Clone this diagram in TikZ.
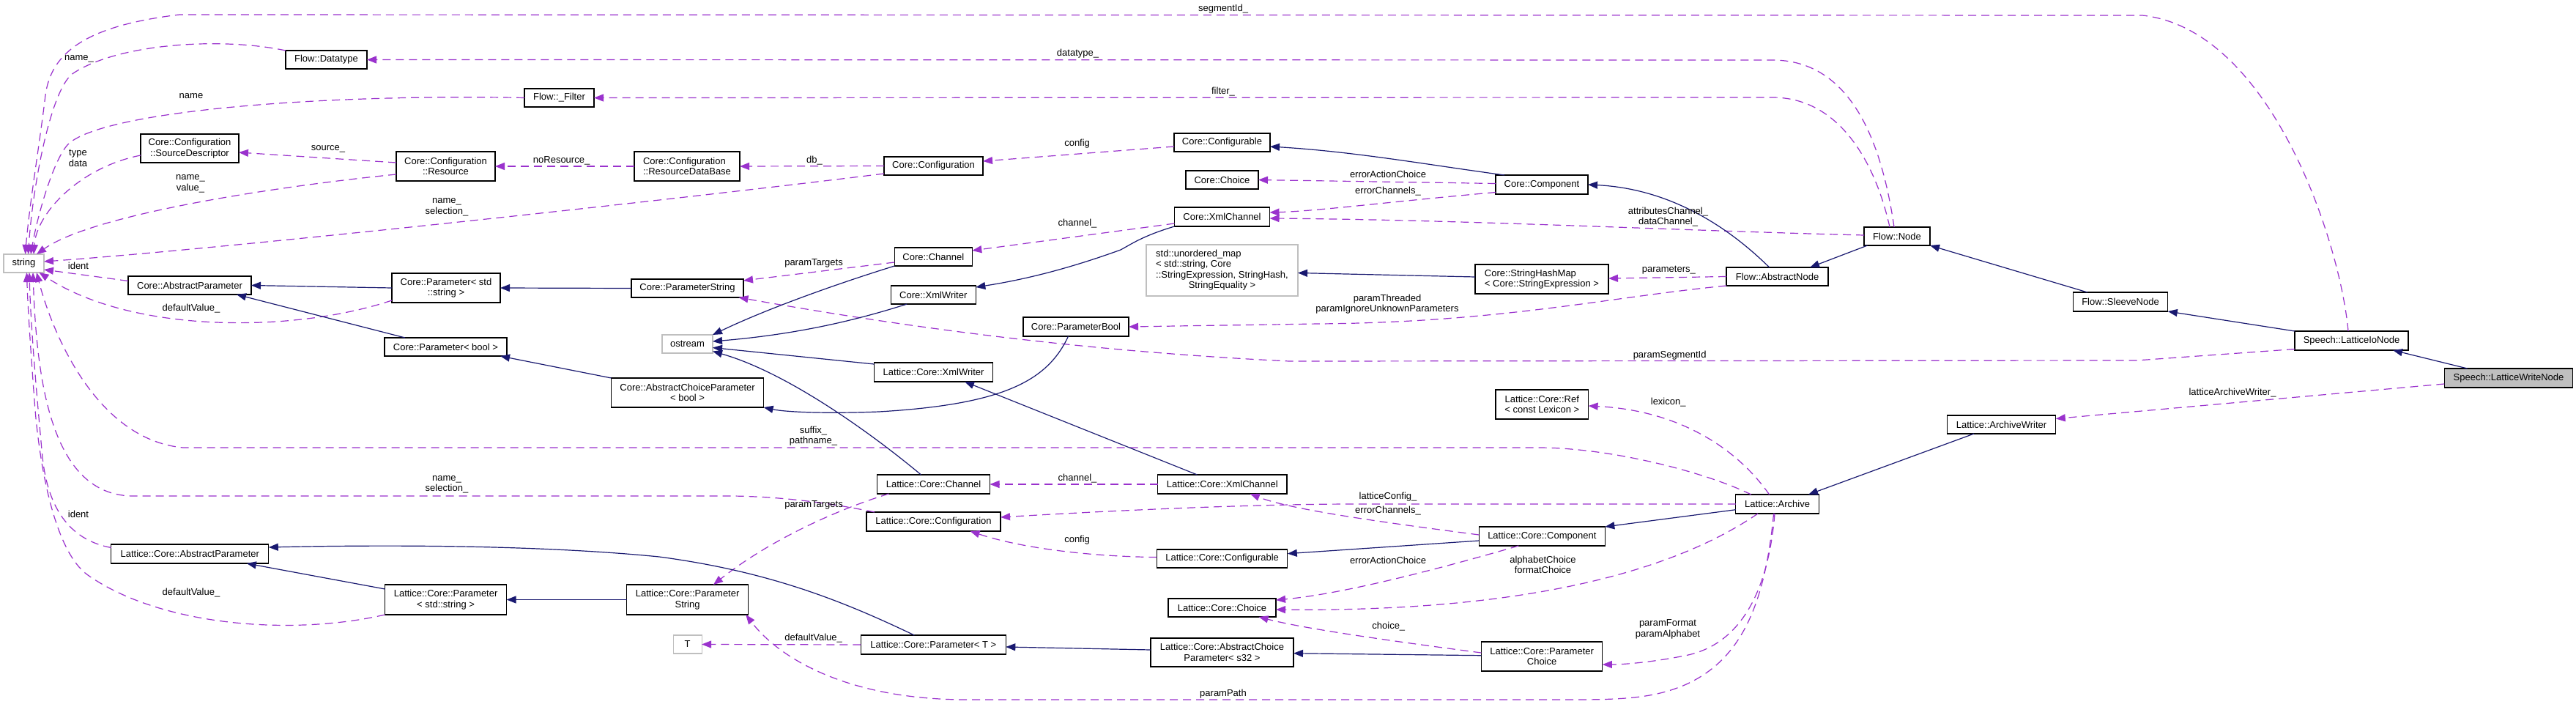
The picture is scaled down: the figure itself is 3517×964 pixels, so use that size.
\documentclass[tikz,border=0pt]{standalone}
\usepackage{fontspec}
\setmainfont{Liberation Sans}
\usetikzlibrary{arrows.meta}
\definecolor{usecol}{HTML}{9A32CD}
\definecolor{inhcol}{HTML}{191970}
\definecolor{extgray}{HTML}{BFBFBF}
\newcommand\fsz{\fontsize{13pt}{14.5pt}\selectfont}
\begin{document}
\begin{tikzpicture}[x=1pt,y=-1pt,
  cls/.style={draw=black,line width=1.1pt,fill=white,inner sep=0pt,outer sep=0pt,font=\fsz,align=center},
  ext/.style={cls,draw=extgray},
  lbl/.style={inner sep=0pt,font=\fsz,align=center},
  usg/.style={draw=usecol,line width=1.2pt,dash pattern=on 11pt off 7pt,-{Triangle[length=13pt,width=10pt]}},
  inh/.style={draw=inhcol,line width=1.2pt,-{Triangle[length=13pt,width=10pt]}}]
\fill[white] (0,0) rectangle (3517,964);
\useasboundingbox (0,0) rectangle (3517,964);

% ---------- nodes ----------
\node[cls,minimum width=111pt,minimum height=25pt] (dtype) at (445.5,81.5) {Flow::Datatype};
\node[cls,minimum width=134pt,minimum height=39pt] (srcdesc) at (259,202.5) {Core::Configuration\\::SourceDescriptor};
\node[cls,minimum width=135pt,minimum height=40pt] (resource) at (608.5,227) {Core::Configuration\\::Resource};
\node[ext,minimum width=55pt,minimum height=25pt] (string) at (32.5,359.5) {string};
\node[cls,minimum width=168pt,minimum height=25pt] (coreabsparam) at (259,389.5) {Core::AbstractParameter};
\node[cls,minimum width=148pt,minimum height=40pt] (coreparamstr) at (609,393) {Core::Parameter< std\\::string >};
\node[cls,minimum width=167pt,minimum height=25pt] (coreparambool) at (608.5,473.5) {Core::Parameter< bool >};
\node[cls,minimum width=95pt,minimum height=25pt] (filter) at (763.5,133.5) {Flow::\_Filter};
\node[cls,align=left,minimum width=144pt,minimum height=40pt] (resdb) at (938,227) {Core::Configuration\\::ResourceDataBase};
\node[cls,minimum width=153pt,minimum height=25pt] (coreparamstring) at (938.5,393.5) {Core::ParameterString};
\node[ext,minimum width=69pt,minimum height=25pt] (ostream) at (938.5,469.5) {ostream};
\node[cls,minimum width=131pt,minimum height=25pt] (configurable) at (1668.5,194.5) {Core::Configurable};
\node[cls,minimum width=135pt,minimum height=25pt] (configuration) at (1274.5,226.5) {Core::Configuration};
\node[cls,minimum width=99pt,minimum height=25pt] (choice) at (1668.5,245.5) {Core::Choice};
\node[cls,minimum width=130pt,minimum height=26pt] (xmlchannel) at (1668.5,296) {Core::XmlChannel};
\node[cls,minimum width=106pt,minimum height=25pt] (channel) at (1274.3,350.5) {Core::Channel};
\node[cls,minimum width=116pt,minimum height=25pt] (xmlwriter) at (1274.3,402.5) {Core::XmlWriter};
\node[ext,minimum width=207pt,minimum height=70pt] (umap) at (1668.5,369) {\begin{tabular}{@{}l@{}}std::unordered\_map\\< std::string, Core\\::StringExpression, StringHash,\\\multicolumn{1}{@{}c@{}}{StringEquality >}\end{tabular}};
\node[cls,minimum width=144pt,minimum height=26pt] (parambool) at (1469,446) {Core::ParameterBool};
\node[cls,minimum width=126pt,minimum height=26pt] (component) at (2105,252) {Core::Component};
\node[cls,align=left,minimum width=182pt,minimum height=40pt] (shm) at (2105,381) {Core::StringHashMap\\< Core::StringExpression >};
\node[cls,minimum width=90pt,minimum height=25pt] (flownode) at (2590,322.5) {Flow::Node};
\node[cls,minimum width=139pt,minimum height=25pt] (absnode) at (2426.5,377.5) {Flow::AbstractNode};
\node[cls,minimum width=129.5pt,minimum height=26pt] (sleeve) at (2895,412) {Flow::SleeveNode};
\node[cls,minimum width=155pt,minimum height=26pt] (ionode) at (3210.5,465) {Speech::LatticeIoNode};
\node[cls,fill=extgray,minimum width=175.5pt,minimum height=26pt] (writenode) at (3425,516) {Speech::LatticeWriteNode};
\node[cls,minimum width=215pt,minimum height=26pt] (labsparam) at (259.3,756) {Lattice::Core::AbstractParameter};
\node[cls,minimum width=166pt,minimum height=41pt] (lparamstr) at (608.6,818.5) {Lattice::Core::Parameter\\< std::string >};
\node[cls,minimum width=208pt,minimum height=40pt] (acpbool) at (938.6,536) {Core::AbstractChoiceParameter\\< bool >};
\node[cls,minimum width=165.4pt,minimum height=41pt] (lparamstring) at (938.6,818.5) {Lattice::Core::Parameter\\String};
\node[ext,minimum width=38.7pt,minimum height=25pt] (T) at (938.7,879.5) {T};
\node[cls,minimum width=162.6pt,minimum height=26pt] (lxmlwriter) at (1274.6,508) {Lattice::Core::XmlWriter};
\node[cls,minimum width=154pt,minimum height=26pt] (lchannel) at (1274.5,661) {Lattice::Core::Channel};
\node[cls,minimum width=176.4pt,minimum height=26pt] (lxmlchannel) at (1668.8,661) {Lattice::Core::XmlChannel};
\node[cls,minimum width=183pt,minimum height=26pt] (lconfiguration) at (1274.5,712) {Lattice::Core::Configuration};
\node[cls,minimum width=178.4pt,minimum height=25pt] (lconfigurable) at (1668.6,762.5) {Lattice::Core::Configurable};
\node[cls,minimum width=147pt,minimum height=25pt] (lchoice) at (1668.5,829.5) {Lattice::Core::Choice};
\node[cls,minimum width=198pt,minimum height=26pt] (lparamT) at (1274.3,880) {Lattice::Core::Parameter< T >};
\node[cls,minimum width=195pt,minimum height=39pt] (lacps32) at (1668.5,890.5) {Lattice::Core::AbstractChoice\\Parameter< s32 >};
\node[cls,minimum width=126.6pt,minimum height=40pt] (lref) at (2105.3,552) {Lattice::Core::Ref\\< const Lexicon >};
\node[cls,minimum width=172pt,minimum height=26pt] (lcomponent) at (2105.3,732) {Lattice::Core::Component};
\node[cls,minimum width=165.4pt,minimum height=40pt] (lparamchoice) at (2105.1,896) {Lattice::Core::Parameter\\Choice};
\node[cls,minimum width=148.5pt,minimum height=25pt] (archwriter) at (2732.5,579.5) {Lattice::ArchiveWriter};
\node[cls,minimum width=113.6pt,minimum height=26pt] (archive) at (2426.6,688) {Lattice::Archive};

% ---------- usage (dashed) connectors ----------
\draw[usg] ([xshift=-4.5pt]ionode.north) .. controls (3195,330) and (3100,40) .. (2925,21) -- (245,20) .. controls (120,35) and (70,70) .. (62,130) .. controls (55,190) and (40,280) .. ([xshift=2pt]string.north);
\draw[usg] (dtype.north west) .. controls (300,50) and (160,60) .. (100,100) .. controls (70,120) and (45,250) .. ([xshift=6pt]string.north);
\draw[usg] ([xshift=-4pt]flownode.north) .. controls (2570,200) and (2530,82) .. (2420,82) -- (dtype.east);
\draw[usg] ([xshift=-10pt]flownode.north) .. controls (2560,220) and (2510,133) .. (2420,133) -- (filter.east);
\draw[usg] (filter.west) .. controls (450,128) and (150,150) .. (95,195) .. controls (75,212) and (52,290) .. ([xshift=9.5pt]string.north);
\draw[usg] ([yshift=-9.5pt]srcdesc.west) .. controls (110,228) and (50,290) .. ([xshift=13.5pt]string.north);
\draw[usg] ([yshift=5pt]resource.west) -- ([yshift=-5.5pt]srcdesc.east);
\draw[usg] ([yshift=-11pt]resource.west) .. controls (400,252) and (130,290) .. ([xshift=17.5pt]string.north);
\draw[usg] (resdb.west) -- (resource.east);
\draw[usg] (configuration.west) -- (resdb.east);
\draw[usg] ([yshift=-10.5pt]configuration.west) .. controls (900,275) and (300,340) .. ([yshift=2.5pt]string.east);
\draw[usg] ([yshift=-5.5pt]configurable.west) -- ([yshift=6.5pt]configuration.east);
\draw[usg] ([yshift=1.5pt]component.west) -- (choice.east);
\draw[usg] ([yshift=-10.5pt]component.west) .. controls (1900,275) and (1800,288) .. ([yshift=6pt]xmlchannel.east);
\draw[usg] ([yshift=1.5pt]flownode.west) .. controls (2300,315) and (2000,300) .. ([yshift=-2pt]xmlchannel.east);
\draw[usg] ([yshift=-9pt]xmlchannel.west) -- ([yshift=8.5pt]channel.east);
\draw[usg] ([yshift=-7.5pt]channel.west) -- ([yshift=10.5pt]coreparamstring.east);
\draw[usg] (absnode.west) -- ([yshift=1pt]shm.east);
\draw[usg] (absnode.south west) .. controls (2200,405) and (2050,440) .. (1800,442) -- (parambool.east);
\draw[usg] ([yshift=-11.5pt]ionode.west) -- (2917,492) -- (1760,493) .. controls (1450,478) and (1200,440) .. ([xshift=-6.5pt]coreparamstring.south east);
\draw[usg] ([yshift=-8pt]writenode.west) -- ([yshift=8pt]archwriter.east);
\draw[usg] ([xshift=-11pt]archive.north) .. controls (2370,610) and (2290,560) .. ([yshift=-2pt]lref.east);
\draw[usg] ([xshift=-35.8pt]archive.north) .. controls (2330,645) and (2200,611) .. (2100,611) -- (250,611) .. controls (130,600) and (70,450) .. ([xshift=17.5pt]string.south);
\draw[usg] (archive.west) -- (1850,688) .. controls (1700,688) and (1500,698) .. ([yshift=6pt]lconfiguration.east);
\draw[usg] ([yshift=2pt]lcomponent.west) .. controls (1880,712) and (1760,695) .. ([xshift=38pt]lxmlchannel.south);
\draw[usg] (lxmlchannel.west) -- (lchannel.east);
\draw[usg] ([xshift=-61pt]lchannel.south) .. controls (1160,690) and (1060,730) .. ([xshift=35.4pt]lparamstring.north);
\draw[usg] ([yshift=2pt]lconfigurable.west) .. controls (1500,760) and (1400,750) .. ([xshift=50pt]lconfiguration.south);
\draw[usg] ([xshift=-32pt]lcomponent.south) .. controls (1980,772) and (1840,810) .. ([yshift=10.5pt]lchoice.east);
\draw[usg] ([xshift=-26.6pt]archive.south) .. controls (2270,790) and (2050,835) .. ([yshift=-2.5pt]lchoice.east);
\draw[usg] ([yshift=5pt]lparamchoice.west) .. controls (1900,875) and (1780,858) .. ([xshift=50pt]lchoice.south);
\draw[usg] ([xshift=-3.6pt]archive.south) .. controls (2415,800) and (2380,880) .. (2300,895) .. controls (2260,903) and (2220,907) .. ([yshift=-11pt]lparamchoice.east);
\draw[usg] ([xshift=-5pt]archive.south) .. controls (2410,820) and (2380,900) .. (2300,935) .. controls (2260,952) and (2220,955) .. (2150,955) -- (1320,955) .. controls (1160,955) and (1065,900) .. ([xshift=-3pt]lparamstring.south east);
\draw[usg] (lparamT.west) -- (T.east);
\draw[usg] ([yshift=6pt]coreabsparam.west) -- ([yshift=-8.5pt]string.east);
\draw[usg] ([yshift=-17pt]coreparamstr.west) .. controls (400,455) and (180,455) .. ([xshift=21pt]string.south);
\draw[usg] ([yshift=8.5pt]labsparam.west) .. controls (100,738) and (66,700) .. (58,624) .. controls (52,560) and (42,450) .. ([xshift=7.5pt]string.south);
\draw[usg] (lparamstr.south west) .. controls (400,868) and (220,855) .. (120,785) .. controls (75,753) and (55,640) .. (48,560) .. controls (42,480) and (38,420) .. ([xshift=4pt]string.south);
\draw[usg] ([xshift=-80.5pt]lconfiguration.north) .. controls (1150,690) and (1080,678) .. (1000,677) -- (180,677) .. controls (70,675) and (50,520) .. ([xshift=12.5pt]string.south);

% ---------- inheritance (solid) connectors ----------
\draw[inh] ([xshift=-51pt]component.north) .. controls (1950,225) and (1850,207) .. ([yshift=-5.5pt]configurable.east);
\draw[inh] ([xshift=-10.8pt]absnode.north) .. controls (2370,320) and (2290,258) .. (component.east);
\draw[inh] ([xshift=-40.4pt]flownode.south) -- ([xshift=44.5pt]absnode.north);
\draw[inh] ([xshift=-45pt]sleeve.north) -- (flownode.south east);
\draw[inh] (ionode.north west) -- (sleeve.south east);
\draw[inh] ([xshift=-56.4pt]writenode.north) -- ([xshift=56.5pt]ionode.south);
\draw[inh] (xmlchannel.south west) .. controls (1560,322) and (1545,333) .. (1530,341) .. controls (1450,370) and (1390,383) .. ([yshift=10.5pt]xmlwriter.east);
\draw[inh] (channel.south west) .. controls (1150,385) and (1050,420) .. (ostream.north east);
\draw[inh] ([xshift=-36pt]xmlwriter.south) .. controls (1160,440) and (1080,457) .. ([yshift=3.5pt]ostream.east);
\draw[inh] ([yshift=11pt]lxmlwriter.west) -- ([yshift=-5pt]ostream.east);
\draw[inh] ([xshift=-17pt]lchannel.north) .. controls (1200,600) and (1080,510) .. ([yshift=-10pt]ostream.east);
\draw[inh] (acpbool.north west) -- ([xshift=74.5pt]coreparambool.south);
\draw[inh] ([xshift=-10.5pt]parambool.south) .. controls (1430,520) and (1370,552) .. (1200,562) .. controls (1120,565) and (1070,562) .. (acpbool.south east);
\draw[inh] (coreparamstring.west) -- (coreparamstr.east);
\draw[inh] (coreparamstr.west) -- (coreabsparam.east);
\draw[inh] ([xshift=-55.5pt]coreparambool.north) -- ([xshift=64pt]coreabsparam.south);
\draw[inh] ([yshift=3pt]shm.west) -- ([yshift=-3.5pt]umap.east);
\draw[inh] ([xshift=-34.3pt]lxmlchannel.north) -- ([xshift=42.4pt]lxmlwriter.south);
\draw[inh] ([yshift=14.5pt]lparamstr.west) -- ([xshift=77.5pt]labsparam.south);
\draw[inh] (lparamstring.west) -- (lparamstr.east);
\draw[inh] ([xshift=-26pt]lparamT.north) .. controls (1150,820) and (1050,780) .. (900,760) .. controls (750,745) and (550,743) .. ([yshift=9pt]labsparam.east);
\draw[inh] ([yshift=3.5pt]lacps32.west) -- ([yshift=-3pt]lparamT.east);
\draw[inh] ([yshift=1.3pt]lparamchoice.west) -- ([yshift=-1.2pt]lacps32.east);
\draw[inh] ([yshift=-6pt]lcomponent.west) -- ([yshift=6.8pt]lconfigurable.east);
\draw[inh] ([yshift=-7.7pt]archive.west) -- (lcomponent.north east);
\draw[inh] ([xshift=-37.5pt]archwriter.south) -- ([xshift=42.4pt]archive.north);

% ---------- labels ----------
\node[lbl] (l1) at (1670,12) {segmentId\_};
\node[lbl] (l2) at (108,80) {name\_};
\node[lbl] (l3) at (1471.5,73) {datatype\_};
\node[lbl] (l4) at (1670,125) {filter\_};
\node[lbl] (l5) at (261,131) {name};
\node[lbl] (l6) at (106.5,216) {type\\data};
\node[lbl] (l7) at (448,203) {source\_};
\node[lbl] (l8) at (260,251) {name\_\\value\_};
\node[lbl] (l9) at (766.6,219) {noResource\_};
\node[lbl] (l10) at (1112,219) {db\_};
\node[lbl] (l11) at (610,283) {name\_\\selection\_};
\node[lbl] (l12) at (1470.6,196) {config};
\node[lbl] (l13) at (1895,238) {errorActionChoice};
\node[lbl] (l14) at (1895,261) {errorChannels\_};
\node[lbl] (l15) at (2277.5,296) {attributesChannel\_\\dataChannel\_};
\node[lbl] (l16) at (1471,305) {channel\_};
\node[lbl] (l17) at (1111,359) {paramTargets};
\node[lbl] (l18) at (2278.3,369) {parameters\_};
\node[lbl] (l19) at (1894,415) {paramThreaded\\paramIgnoreUnknownParameters};
\node[lbl] (l20) at (107,363) {ident};
\node[lbl] (l21) at (261,421) {defaultValue\_};
\node[lbl] (l22) at (2279.6,485) {paramSegmentId};
\node[lbl] (l23) at (3048,536) {latticeArchiveWriter\_};
\node[lbl] (l24) at (2277.7,549) {lexicon\_};
\node[lbl] (l25) at (1110.5,595) {suffix\_\\pathname\_};
\node[lbl] (l26) at (610,661.5) {name\_\\selection\_};
\node[lbl] (l27) at (1471,653) {channel\_};
\node[lbl] (l28) at (1895,678) {latticeConfig\_};
\node[lbl] (l29) at (1111,689) {paramTargets};
\node[lbl] (l30) at (1895,697) {errorChannels\_};
\node[lbl] (l31) at (107,702) {ident};
\node[lbl] (l32) at (1470.6,737) {config};
\node[lbl] (l33) at (1895,765) {errorActionChoice};
\node[lbl] (l34) at (2106.5,771) {alphabetChoice\\formatChoice};
\node[lbl] (l35) at (261,809) {defaultValue\_};
\node[lbl] (l36) at (2277,859) {paramFormat\\paramAlphabet};
\node[lbl] (l37) at (1895.8,855) {choice\_};
\node[lbl] (l38) at (1110.6,871) {defaultValue\_};
\node[lbl] (l39) at (1670,947) {paramPath};
\end{tikzpicture}
\end{document}
